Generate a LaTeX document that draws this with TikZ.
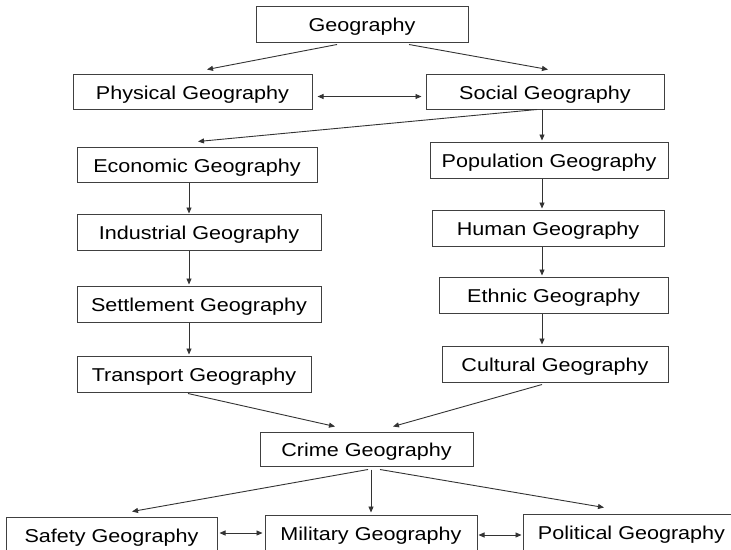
\documentclass[tikz,border=0pt]{standalone}
\usepackage{fontspec}
\setmainfont{Liberation Sans}[FakeStretch=1.16]
\usepackage{xcolor}
\colorlet{colBox}{black!75}
\colorlet{colArr}{black!80}
\usetikzlibrary{arrows.meta}

\begin{document}
\begin{tikzpicture}[x=1pt, y=-1pt,
		geobox/.style={draw=colBox, line width=1pt, inner sep=0pt, minimum height=36pt, text height=15.7pt, text depth=0pt, font=\fontsize{18.6}{22}\selectfont},
		arr/.style={-{Triangle[length=6pt, width=5pt]}, colArr, line width=0.9pt},
		biarr/.style={{Triangle[length=6pt, width=5pt]}-{Triangle[length=6pt, width=5pt]}, colArr, line width=0.9pt}]
	\useasboundingbox (0,0) rectangle (731,549);
	\clip (0,0) rectangle (731,549);
	\fill[white] (0,0) rectangle (731,549);
	\node[geobox, minimum width=212pt] (geo) at (362,24) {Geography};
	\node[geobox, minimum width=239pt, minimum height=35pt] (phys) at (192.5,91.5) {Physical Geography};
	\node[geobox, minimum width=238pt, minimum height=35pt] (soc) at (545,91.5) {Social Geography};
	\node[geobox, minimum width=240pt, minimum height=35pt] (econ) at (197,164.5) {Economic Geography};
	\node[geobox, minimum width=244pt] (ind) at (199,232) {Industrial Geography};
	\node[geobox, minimum width=244pt] (sett) at (199,304) {Settlement Geography};
	\node[geobox, minimum width=234pt] (trans) at (194,374) {Transport Geography};
	\node[geobox, minimum width=238pt] (pop) at (549,160) {Population Geography};
	\node[geobox, minimum width=232pt] (hum) at (548,228) {Human Geography};
	\node[geobox, minimum width=229pt] (eth) at (553.5,295) {Ethnic Geography};
	\node[geobox, minimum width=226pt] (cult) at (555,364) {Cultural Geography};
	\node[geobox, minimum width=213pt, minimum height=34pt] (crime) at (366.5,449) {Crime Geography};
	\node[geobox, minimum width=211pt] (safe) at (111.5,535) {Safety Geography};
	\node[geobox, minimum width=212pt] (mil) at (371,533) {Military Geography};
	\node[geobox, minimum width=217pt] (pol) at (631.5,532) {Political Geography};

	\draw[arr] ([xshift=-25pt,yshift=-2pt]geo.south) -- ([xshift=14.5pt,yshift=4pt]phys.north);
	\draw[arr] ([xshift=47pt,yshift=-2pt]geo.south) -- ([xshift=3pt,yshift=4pt]soc.north);
	\draw[biarr] ([xshift=5pt,yshift=-5pt]phys.east) -- ([xshift=-4pt,yshift=-5pt]soc.west);
	\draw[arr] ([xshift=-8pt]soc.south) -- ([xshift=1pt,yshift=5pt]econ.north);
	\draw[arr] ([xshift=-3pt]soc.south) -- ([xshift=-7pt,yshift=1pt]pop.north);
	\draw[arr] ([xshift=-8pt]econ.south) -- ([xshift=-10pt]ind.north);
	\draw[arr] ([xshift=-10pt]ind.south) -- ([xshift=-10pt,yshift=1pt]sett.north);
	\draw[arr] ([xshift=-10pt]sett.south) -- ([xshift=-5pt,yshift=1pt]trans.north);
	\draw[arr] ([xshift=-7pt]pop.south) -- ([xshift=-6pt,yshift=1pt]hum.north);
	\draw[arr] ([xshift=-6pt]hum.south) -- ([xshift=-11.5pt,yshift=1pt]eth.north);
	\draw[arr] ([xshift=-11.5pt]eth.south) -- ([xshift=-13pt,yshift=1pt]cult.north);
	\draw[arr] ([xshift=-6pt,yshift=-1pt]trans.south) -- ([xshift=-31.5pt,yshift=5pt]crime.north);
	\draw[arr] ([xshift=-13pt,yshift=-2pt]cult.south) -- ([xshift=26.5pt,yshift=5pt]crime.north);
	\draw[arr] ([xshift=1.5pt,yshift=-3pt]crime.south) -- ([xshift=20.5pt,yshift=5pt]safe.north);
	\draw[arr] ([xshift=4.5pt,yshift=-3pt]crime.south) -- ([yshift=2pt]mil.north);
	\draw[arr] ([xshift=13.5pt,yshift=-3pt]crime.south) -- ([xshift=-27.5pt,yshift=6pt]pol.north);
	\draw[biarr] ([xshift=2pt,yshift=2pt]safe.east) -- ([xshift=-2pt]mil.west);
	\draw[biarr] ([xshift=1pt,yshift=-2pt]mil.east) -- ([xshift=-1pt,yshift=-3pt]pol.west);
\end{tikzpicture}
\end{document}
